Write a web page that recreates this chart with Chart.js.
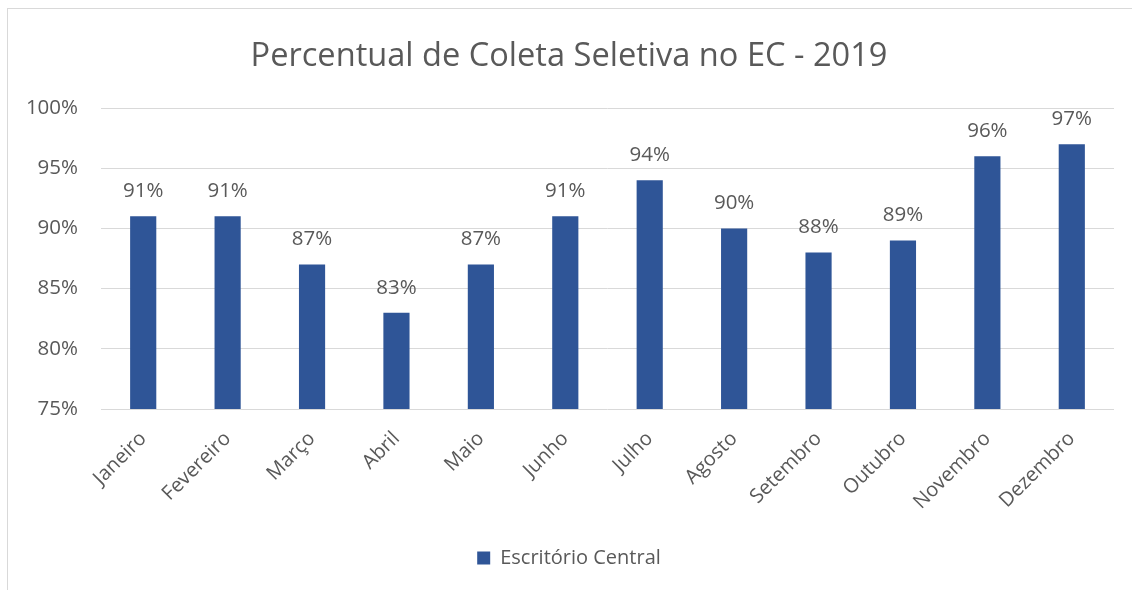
<!DOCTYPE html>
<html>
<head>
<meta charset="utf-8">
<script src="https://cdn.jsdelivr.net/npm/chart.js@4"></script>
<style>
  html, body { margin: 0; padding: 0; background: #fff; overflow: hidden; }
  #wrap {
    position: absolute; left: 7px; top: 8px;
    width: 1125px; height: 582px;
    border-left: 1px solid #d9d9d9; border-top: 1px solid #d9d9d9;
  }
  canvas { display: block; }
</style>
</head>
<body>
<div id="wrap"><canvas id="chart" width="1125" height="582"></canvas></div>
<script>
// Chart data
const months = ['Janeiro', 'Fevereiro', 'Março', 'Abril', 'Maio', 'Junho',
    'Julho', 'Agosto', 'Setembro', 'Outubro', 'Novembro', 'Dezembro'];
const percentages = [91, 91, 87, 83, 87, 91, 94, 90, 88, 89, 96, 97];
const seriesName = 'Escritório Central';
const yTicks = [75, 80, 85, 90, 95, 100];

const FONT = "'Open Sans', sans-serif";
const TEXT = '#595959';

// Draw the value above each bar
const valueLabels = {
    id: 'valueLabels',
    afterDatasetsDraw(chart) {
        const ctx = chart.ctx;
        const meta = chart.getDatasetMeta(0);
        ctx.save();
        ctx.font = '20.5px ' + FONT;
        ctx.fillStyle = TEXT;
        ctx.textAlign = 'center';
        ctx.textBaseline = 'middle';
        meta.data.forEach((bar, i) => {
            ctx.fillText(percentages[i] + '%', bar.x, bar.y - 25);
        });
        ctx.restore();
    }
};

const ctx = document.getElementById('chart').getContext('2d');
new Chart(ctx, {
    type: 'bar',
    data: {
        labels: months,
        datasets: [{
            label: seriesName,
            data: percentages,
            backgroundColor: '#2F5597',
            categoryPercentage: 1,
            barPercentage: 0.31
        }]
    },
    options: {
        responsive: false,
        animation: false,
        layout: { padding: { left: 16, right: 19, top: 0, bottom: 13 } },
        scales: {
            y: {
                min: 75,
                max: 100,
                afterBuildTicks: (scale) => {
                    scale.ticks = yTicks.map(v => ({ value: v }));
                },
                afterFit: (scale) => { scale.width = 77; },
                grid: { color: '#d9d9d9', drawTicks: false },
                border: { display: false },
                ticks: {
                    color: TEXT,
                    padding: 23,
                    font: { family: FONT, size: 20.5 },
                    callback: v => v + '%'
                }
            },
            x: {
                afterFit: (scale) => { scale.height = 129; },
                grid: { display: false },
                border: { display: false },
                ticks: {
                    color: TEXT,
                    padding: 10,
                    minRotation: 45,
                    maxRotation: 45,
                    font: { family: FONT, size: 20 }
                }
            }
        },
        plugins: {
            title: {
                display: true,
                text: 'Percentual de Coleta Seletiva no EC - 2019',
                color: TEXT,
                font: { family: FONT, size: 32.6, weight: 'normal', lineHeight: 1.2 },
                padding: { top: 28, bottom: 31.9 }
            },
            legend: {
                position: 'bottom',
                labels: {
                    color: TEXT,
                    boxWidth: 13,
                    boxHeight: 13,
                    padding: 10,
                    font: { family: FONT, size: 20 }
                }
            },
            tooltip: { enabled: false }
        }
    },
    plugins: [valueLabels]
});
</script>
</body>
</html>
